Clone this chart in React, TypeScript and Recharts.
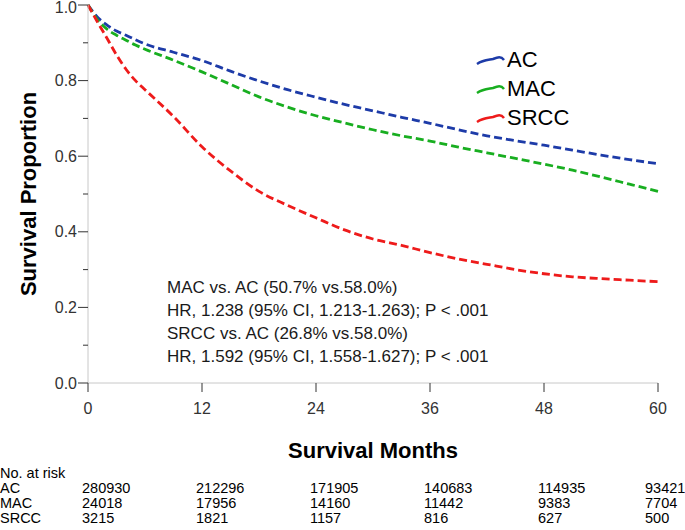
import React from "react";
import { LineChart, Line, XAxis, YAxis, Legend } from "recharts";

// Kaplan-Meier estimates
const months = [0, 1, 2, 3, 4, 5, 6, 9, 12, 15, 18, 21, 24, 27, 30, 33, 36, 39, 42, 45, 48, 51, 54, 57, 60];
const acSurv = [1.0, 0.968, 0.947, 0.931, 0.92, 0.908, 0.897, 0.875, 0.853, 0.825, 0.799, 0.776, 0.756, 0.737, 0.72, 0.703, 0.687, 0.67, 0.654, 0.641, 0.629, 0.616, 0.603, 0.591, 0.58];
const macSurv = [1.0, 0.961, 0.936, 0.92, 0.907, 0.894, 0.883, 0.854, 0.823, 0.79, 0.757, 0.73, 0.707, 0.688, 0.67, 0.654, 0.64, 0.624, 0.609, 0.594, 0.579, 0.563, 0.545, 0.526, 0.507];
const srccSurv = [1.0, 0.955, 0.912, 0.868, 0.83, 0.8, 0.776, 0.705, 0.625, 0.561, 0.507, 0.47, 0.437, 0.405, 0.381, 0.364, 0.345, 0.328, 0.314, 0.3, 0.289, 0.281, 0.276, 0.272, 0.268];

const xTicks = [0, 12, 24, 36, 48, 60];
const yTicks = [0, 0.1, 0.2, 0.3, 0.4, 0.5, 0.6, 0.7, 0.8, 0.9, 1.0];

const riskLabels = ["AC", "MAC", "SRCC"];
const riskAC = [280930, 212296, 171905, 140683, 114935, 93421];
const riskMAC = [24018, 17956, 14160, 11442, 9383, 7704];
const riskSRCC = [3215, 1821, 1157, 816, 627, 500];

const annotation = [
  "MAC vs. AC (50.7% vs.58.0%)",
  "HR, 1.238 (95% CI, 1.213-1.263); P < .001",
  "SRCC vs. AC (26.8% vs.58.0%)",
  "HR, 1.592 (95% CI, 1.558-1.627); P < .001",
];

const COLORS: Record<string, string> = {
  AC: "#1d3ba8",
  MAC: "#18ae20",
  SRCC: "#ee1b1b",
};

const FONT = '"Liberation Sans", Arial, sans-serif';

// plot box (px) - used to line the risk table up under the x ticks
const PLOT_LEFT = 88;
const PLOT_RIGHT = 658;
const monthToPx = (m: number) => PLOT_LEFT + (m / 60) * (PLOT_RIGHT - PLOT_LEFT);

const YTick = (props: any) => {
  const { x, y, payload } = props;
  const major = Math.round(payload.value * 10) % 2 === 0;
  return (
    <g>
      <line x1={x - (major ? 10 : 5)} x2={x} y1={y} y2={y} stroke="#333" strokeWidth={1} />
      {major && (
        <text x={x - 11} y={Math.max(y, 7)} textAnchor="end" dominantBaseline="central" fontSize={16} fill="#333" fontFamily={FONT}>
          {payload.value.toFixed(1)}
        </text>
      )}
    </g>
  );
};

const renderLegend = (props: any) => (
  <div style={{ fontFamily: FONT, fontSize: 22, color: "#000" }}>
    {(props.payload || []).map((entry: any) => (
      <div key={entry.value} style={{ display: "flex", alignItems: "center", height: 29 }}>
        <svg width={30} height={14} style={{ display: "block" }}>
          <path d="M1,11 C7,7 12,7 17,6 C22,4 25,3 28,7" fill="none" stroke={COLORS[entry.value]} strokeWidth={2.5} />
        </svg>
        <span style={{ marginLeft: 1, lineHeight: "29px" }}>{entry.value}</span>
      </div>
    ))}
  </div>
);

export default function App() {
  const data = months.map((m, i) => ({ month: m, AC: acSurv[i], MAC: macSurv[i], SRCC: srccSurv[i] }));
  const riskRows = [riskAC, riskMAC, riskSRCC];

  return (
    <div style={{ position: "absolute", left: 0, top: 0, width: 685, height: 530, overflow: "hidden", background: "#fff", fontFamily: FONT }}>
      <LineChart width={685} height={530} data={data} margin={{ top: 5, right: 27, left: 28, bottom: 117 }}>
        <XAxis
          dataKey="month"
          type="number"
          domain={[0, 60]}
          ticks={xTicks}
          interval={0}
          tickSize={9}
          tickMargin={11}
          height={30}
          axisLine={{ stroke: "#c8c8c8" }}
          tickLine={{ stroke: "#333" }}
          tick={{ fontSize: 16, fill: "#333", fontFamily: FONT }}
          label={() => (
            <text x={373} y={450} textAnchor="middle" dominantBaseline="central" fontSize={22} fontWeight="bold" fill="#000" fontFamily={FONT}>
              Survival Months
            </text>
          )}
        />
        <YAxis
          type="number"
          domain={[0, 1]}
          ticks={yTicks}
          interval={0}
          width={60}
          tickSize={0}
          tickMargin={0}
          tickLine={false}
          axisLine={{ stroke: "#c8c8c8" }}
          tick={<YTick />}
          label={() => (
            <text x={28} y={194} transform="rotate(-90, 28, 194)" textAnchor="middle" dominantBaseline="central" fontSize={22} fontWeight="bold" fill="#000" fontFamily={FONT}>
              Survival Proportion
            </text>
          )}
        />
        <Legend
          layout="vertical"
          align="center"
          verticalAlign="middle"
          content={renderLegend}
          wrapperStyle={{ left: 476, top: 45, width: 160 }}
        />
        <Line type="monotone" dataKey="AC" stroke={COLORS.AC} strokeWidth={2.8} strokeDasharray="8 4" dot={false} isAnimationActive={false} />
        <Line type="monotone" dataKey="MAC" stroke={COLORS.MAC} strokeWidth={2.8} strokeDasharray="8 4" dot={false} isAnimationActive={false} />
        <Line type="monotone" dataKey="SRCC" stroke={COLORS.SRCC} strokeWidth={2.8} strokeDasharray="8 4" dot={false} isAnimationActive={false} />
      </LineChart>

      {/* HR annotation */}
      <div style={{ position: "absolute", left: 167, top: 276, fontSize: 17, lineHeight: "23px", color: "#1a1a1a", whiteSpace: "nowrap" }}>
        {annotation.map((t) => (
          <div key={t}>{t}</div>
        ))}
      </div>

      {/* number at risk table */}
      <div style={{ position: "absolute", left: 0, top: 466, fontSize: 14.5, lineHeight: "15px", color: "#000", whiteSpace: "nowrap" }}>
        No. at risk
      </div>
      {riskLabels.map((lab, r) => (
        <div key={lab} style={{ position: "absolute", left: 0, top: 481 + r * 15, width: 685, height: 15, fontSize: 14.5, lineHeight: "15px", whiteSpace: "nowrap" }}>
          <span style={{ position: "absolute", left: 0 }}>{lab}</span>
          {riskRows[r].map((n, c) => (
            <span key={c} style={{ position: "absolute", left: monthToPx(xTicks[c]) - (c === xTicks.length - 1 ? 13 : 6) }}>
              {n}
            </span>
          ))}
        </div>
      ))}
    </div>
  );
}
